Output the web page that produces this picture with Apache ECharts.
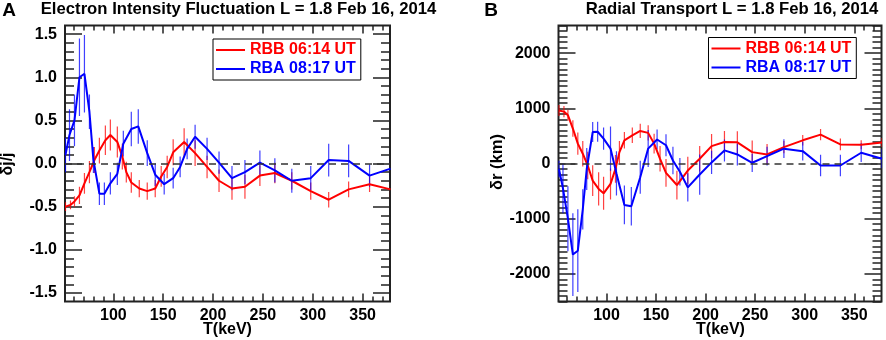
<!DOCTYPE html>
<html>
<head>
<meta charset="utf-8">
<script src="https://cdn.jsdelivr.net/npm/echarts@6/dist/echarts.min.js"></script>
<style>
  html, body { margin: 0; padding: 0; background: #fff; }
  #chart { width: 886px; height: 340px; }
</style>
</head>
<body>
<div id="chart"></div>
<script>
// energy channels (keV)
const energyRBB = [52, 57, 61, 66, 71, 76, 81, 86, 92, 97, 104, 109, 113, 118, 126, 134, 142, 148, 154, 160,
  171, 182, 194, 206, 219, 232, 247, 262, 279, 298, 316, 336, 357, 378]
const energyRBA = [52, 56, 61, 66, 71, 76, 80, 86, 91, 97, 104, 110, 118, 125, 134, 142, 151, 160, 167, 174,
  182, 194, 206, 219, 232, 247, 262, 279, 298, 316, 336, 357, 378]

// panel A: dj/j
const djRBB = [-0.50, -0.48, -0.44, -0.37, -0.23, -0.10, 0.04, 0.15, 0.27, 0.33, 0.25, 0.08, -0.10, -0.22, -0.29,
  -0.32, -0.29, -0.15, -0.04, 0.13, 0.25, 0.12, -0.04, -0.20, -0.29, -0.27, -0.14, -0.11, -0.20, -0.32, -0.42,
  -0.30, -0.24, -0.30]
const djErrRBB = [0.05, 0.05, 0.06, 0.10, 0.12, 0.13, 0.15, 0.15, 0.17, 0.18, 0.18, 0.15, 0.12, 0.12, 0.10,
  0.10, 0.10, 0.12, 0.13, 0.15, 0.16, 0.15, 0.13, 0.13, 0.13, 0.14, 0.12, 0.12, 0.10, 0.10, 0.09, 0.09, 0.09, 0.09]
const djRBA = [0.10, 0.33, 0.50, 1.00, 1.04, 0.60, 0.04, -0.35, -0.35, -0.23, -0.12, 0.23, 0.40, 0.43, 0.12,
  -0.13, -0.24, -0.17, -0.04, 0.17, 0.31, 0.17, 0.01, -0.17, -0.10, 0.01, -0.08, -0.20, -0.17, 0.04, 0.03,
  -0.14, -0.06]
const djErrRBA = [0.20, 0.30, 0.30, 0.45, 0.45, 0.20, 0.15, 0.13, 0.13, 0.13, 0.13, 0.15, 0.20, 0.20, 0.15,
  0.13, 0.12, 0.12, 0.12, 0.12, 0.14, 0.13, 0.13, 0.14, 0.14, 0.14, 0.14, 0.14, 0.14, 0.19, 0.19, 0.13, 0.13]

// panel B: dr (km)
const drRBB = [960, 940, 875, 633, 360, 177, -36, -310, -460, -540, -370, -97, 206, 420, 510, 590, 555, 360,
  85, -170, -390, -128, 85, 315, 390, 383, 206, 164, 297, 420, 523, 346, 340, 380]
const drErrRBB = [100, 100, 100, 150, 200, 230, 250, 280, 300, 300, 280, 250, 200, 150, 140, 130, 140, 180,
  230, 250, 260, 250, 230, 220, 200, 200, 210, 190, 110, 95, 100, 105, 80, 80]
const drRBA = [-100, -450, -1000, -1650, -1580, -830, -100, 570, 575, 450, 270, -180, -750, -775, -250, 270,
  435, 330, 55, -150, -432, -200, 20, 237, 164, 13, 133, 268, 224, -36, -36, 195, 86]
const drErrRBA = [150, 450, 590, 750, 750, 365, 380, 180, 180, 200, 400, 400, 350, 350, 300, 335, 180, 200,
  250, 250, 255, 365, 210, 200, 200, 165, 170, 170, 170, 195, 195, 170, 170]

// ticks
const xMajor = [100, 150, 200, 250, 300, 350]
const yMajorA = [-1.5, -1.0, -0.5, 0, 0.5, 1.0, 1.5]
const yMajorB = [-2000, -1000, 0, 1000, 2000]

const FONT = '"Liberation Sans", Arial, Helvetica, sans-serif'
const RED = '#ff0000'
const BLUE = '#0000ff'
const INK = '#222'

function steps(from, to, step) {
  const out = []
  for (let v = from; v <= to + step / 2; v += step) out.push(Math.round(v * 1000) / 1000)
  return out
}
const xMinor = steps(60, 370, 10)
const yMinorA = steps(-1.5, 1.5, 0.1)
const yMinorB = steps(-2500, 2500, 100)

// 4 axes per side pair: labelled major, minor, mirrored major, mirrored minor
function axes(kind, gridIndex, min, max, major, minor, fmt) {
  const sides = kind === 'x' ? ['bottom', 'top'] : ['left', 'right']
  const majorLen = kind === 'x' ? 8 : 17
  const minorLen = kind === 'x' ? 5 : 9
  const mk = (pos, ticks, len, labels) => ({
    type: 'value', gridIndex, min, max, position: pos,
    axisLine: { show: false, onZero: false },
    splitLine: { show: false },
    axisTick: { show: true, inside: true, length: len, customValues: ticks, lineStyle: { color: INK, width: 1.5 } },
    axisLabel: labels ? {
      show: true, customValues: major, formatter: fmt, margin: kind === 'x' ? 6 : 8,
      color: '#000', fontSize: 16, fontWeight: 'bold', fontFamily: FONT,
    } : { show: false },
  })
  return [
    mk(sides[0], major, majorLen, true),
    mk(sides[0], minor, minorLen, false),
    mk(sides[1], major, majorLen, false),
    mk(sides[1], minor, minorLen, false),
  ]
}

function lineSeries(name, color, xs, ys, idx, withZero) {
  const s = {
    name, type: 'line', xAxisIndex: idx, yAxisIndex: idx,
    data: xs.map((x, i) => [x, ys[i]]),
    symbol: 'none', showSymbol: false, clip: true,
    lineStyle: { color, width: 2 }, itemStyle: { color },
    z: 3,
  }
  if (withZero) {
    s.markLine = {
      silent: true, symbol: ['none', 'none'], label: { show: false },
      lineStyle: { color: '#333', width: 1.5, type: [7, 5] },
      data: [{ yAxis: 0 }],
    }
  }
  return s
}

function errSeries(color, xs, ys, es, idx) {
  return {
    type: 'custom', xAxisIndex: idx, yAxisIndex: idx, clip: true, z: 2,
    data: xs.map((x, i) => [x, ys[i] - es[i], ys[i] + es[i]]),
    renderItem(params, api) {
      const lo = api.coord([api.value(0), api.value(1)])
      const hi = api.coord([api.value(0), api.value(2)])
      return {
        type: 'line',
        shape: { x1: lo[0], y1: lo[1], x2: hi[0], y2: hi[1] },
        style: { stroke: color, lineWidth: 1.2, opacity: 0.75 },
      }
    },
  }
}

function legend(left, top) {
  return {
    left, top, orient: 'vertical', selectedMode: false,
    icon: 'rect', itemWidth: 29, itemHeight: 2, itemGap: 3,
    padding: [3, 5, 3, 3],
    borderColor: '#000', borderWidth: 1, borderRadius: 0, backgroundColor: '#fff',
    textStyle: { fontSize: 16, fontWeight: 'bold', fontFamily: FONT },
    data: [
      { name: 'RBB 06:14 UT', textStyle: { color: RED } },
      { name: 'RBA 08:17 UT', textStyle: { color: BLUE } },
    ],
  }
}

function label(text, x, y, size, rotation) {
  return {
    type: 'text', x, y, rotation: rotation || 0, silent: true,
    style: {
      text, fill: '#000', font: 'bold ' + size + 'px ' + FONT,
      textAlign: 'center', textVerticalAlign: 'middle',
    },
  }
}

const fmtA = v => (Math.abs(v) < 1e-9 ? 0 : v).toFixed(1)
const fmtB = v => String(Math.round(v))

const chart = echarts.init(document.getElementById('chart'), null, { renderer: 'canvas' })
chart.setOption({
  animation: false,
  backgroundColor: '#fff',
  grid: [
    { left: 65, top: 25.5, width: 325, height: 276, show: true, borderColor: INK, borderWidth: 2, containLabel: false },
    { left: 558.5, top: 25.5, width: 323, height: 276, show: true, borderColor: INK, borderWidth: 2, containLabel: false },
  ],
  xAxis: [
    ...axes('x', 0, 51.5, 377.5, xMajor, xMinor, fmtB),
    ...axes('x', 1, 51.5, 377.5, xMajor, xMinor, fmtB),
  ],
  yAxis: [
    ...axes('y', 0, -1.6, 1.6, yMajorA, yMinorA, fmtA),
    ...axes('y', 1, -2500, 2500, yMajorB, yMinorB, fmtB),
  ],
  legend: [legend(213, 39), legend(708.5, 37.5)],
  series: [
    errSeries(RED, energyRBB, djRBB, djErrRBB, 0),
    lineSeries('RBB 06:14 UT', RED, energyRBB, djRBB, 0, true),
    errSeries(BLUE, energyRBA, djRBA, djErrRBA, 0),
    lineSeries('RBA 08:17 UT', BLUE, energyRBA, djRBA, 0, false),
    // panel B uses axis index 4 (first axis of second grid)
    errSeries(RED, energyRBB, drRBB, drErrRBB, 4),
    lineSeries('RBB 06:14 UT', RED, energyRBB, drRBB, 4, true),
    errSeries(BLUE, energyRBA, drRBA, drErrRBA, 4),
    lineSeries('RBA 08:17 UT', BLUE, energyRBA, drRBA, 4, false),
  ],
  graphic: [
    label('A', 9, 11, 19),
    label('Electron Intensity Fluctuation L = 1.8 Feb 16, 2014', 238.5, 9.5, 16.7),
    label('δj/j', 8, 164, 16, Math.PI / 2),
    label('T(keV)', 227.5, 329.5, 16),
    label('B', 491, 11, 19),
    label('Radial Transport L = 1.8 Feb 16, 2014', 732, 9.5, 16.7),
    label('δr (km)', 497, 162, 16.5, Math.PI / 2),
    label('T(keV)', 720.5, 329.5, 16),
  ],
})
</script>
</body>
</html>
